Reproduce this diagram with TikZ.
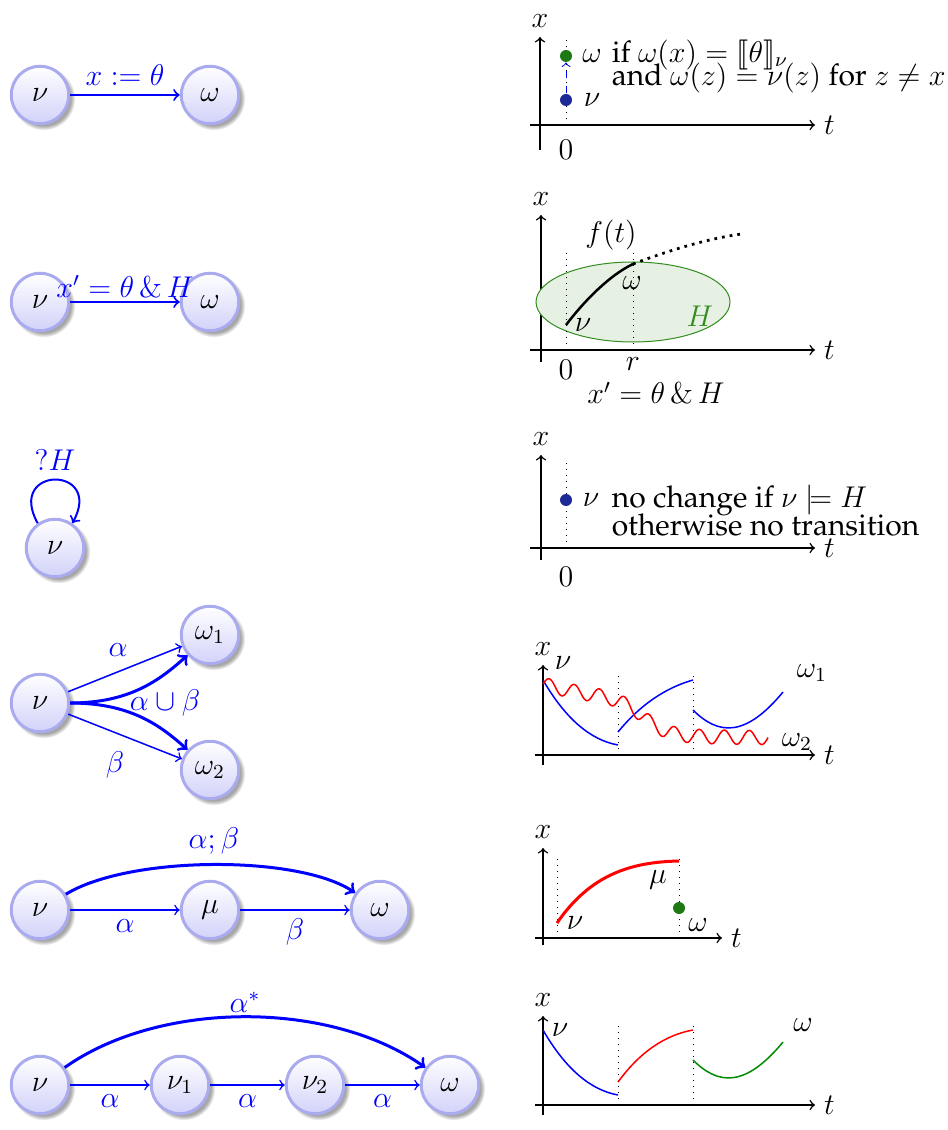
\documentclass[tikz,border=0pt]{standalone}
\usepackage[T1]{fontenc}
\renewcommand{\rmdefault}{ppl}
\usepackage{amsmath,amssymb,stmaryrd}
\usetikzlibrary{shadows}
\definecolor{nodeborder}{RGB}{170,170,238}
\definecolor{nodebottom}{RGB}{210,210,250}
\definecolor{dotblue}{RGB}{30,40,150}
\definecolor{dotgreen}{RGB}{30,120,20}
\definecolor{hgreen}{RGB}{50,140,30}
\tikzset{
 every node/.style={font=\fontsize{12}{14}\selectfont},
 st/.style={circle, draw=nodeborder, line width=1.2pt, top color=white, bottom color=nodebottom,
   minimum size=23pt, inner sep=0pt,
   circular drop shadow={shadow xshift=1.3pt, shadow yshift=-1.3pt, shadow scale=1.1, opacity=.7}},
 tr/.style={->, blue, thick},
 trthin/.style={->, blue, semithick},
 trbold/.style={->, blue, very thick},
 lbl/.style={text=blue},
 axis/.style={->, semithick},
 guide/.style={dotted, thin},
 pt/.style={circle, inner sep=0pt, minimum size=4.8pt},
}
\begin{document}
\begin{tikzpicture}[x=0.4pt,y=-0.4pt]
\useasboundingbox (0,0) rectangle (947,1130);

% ---------- row 1
\node[st] (a1) at (40,95) {$\nu$};
\node[st] (b1) at (210,95) {$\omega$};
\draw[tr] (a1) -- node[lbl, above] (l1) {$x:=\theta$} (b1);

\draw[axis] (530,125) -- (815,125) node[right] (t1) {$t$};
\draw[axis] (540,150) -- (540,37) node[above] (x1) {$x$};
\draw[guide] (566,125) -- (566,40);
\node (z1) at (566,150) {$0$};
\node[pt, fill=dotblue] (nu1) at (566,100) {};
\node[pt, fill=dotgreen] (om1) at (566,56) {};
\draw[->, blue, dashed, thin] (nu1) -- (om1);
\node (nu1l) at (592,100) {$\nu$};
\node (om1l) at (592,56) {$\omega$};
\node[anchor=west] (tx1a) at (603,55) {if $\omega(x)=\llbracket\theta\rrbracket_\nu$};
\node[anchor=west] (tx1b) at (603,78) {and $\omega(z)=\nu(z)$ for $z\neq x$};

% ---------- row 2
\node[st] (a2) at (40,302) {$\nu$};
\node[st] (b2) at (210,302) {$\omega$};
\draw[tr] (a2) -- node[lbl, above=-2pt] (l2) {$x'=\theta\,\&\,H$} (b2);

\draw[axis] (530,350) -- (815,350) node[right] (t2) {$t$};
\draw[axis] (541,362) -- (541,215) node[above] (x2) {$x$};
\draw[hgreen, fill=hgreen!12] (633,302) ellipse (97 and 40);
\draw[guide] (566,350) -- (566,248);
\draw[guide] (633,350) -- (633,248);
\draw[line width=1pt] (566,325) .. controls (585,300) and (610,275) .. (633,264);
\draw[dotted, line width=1.1pt] (633,264) .. controls (670,250) and (710,238) .. (742,234);
\node (f2) at (611,235) {$f(t)$};
\node (om2) at (632,283) {$\omega$};
\node (nu2) at (583,325) {$\nu$};
\node[text=hgreen] (h2) at (700,316) {$H$};
\node (z2) at (566,370) {$0$};
\node (r2) at (633,364) {$r$};
\node (e2) at (656,393) {$x'=\theta\,\&\,H$};

% ---------- row 3
\node[st] (a3) at (55,548) {$\nu$};
\draw[tr] (a3.125) .. controls +(-32,-58) and +(32,-58) .. node[lbl, above] (l3) {$?H$} (a3.55);

\draw[axis] (530,548) -- (815,548) node[right] (t3) {$t$};
\draw[axis] (541,560) -- (541,455) node[above] (x3) {$x$};
\draw[guide] (566,548) -- (566,460);
\node[pt, fill=dotblue] (nu3) at (566,500) {};
\node (nu3l) at (591,500) {$\nu$};
\node[anchor=west] (tx3a) at (603,500) {no change if $\nu\models H$};
\node[anchor=west] (tx3b) at (603,525) {otherwise no transition};
\node (z3) at (566,577) {$0$};

% ---------- row 4
\node[st] (a4) at (40,703) {$\nu$};
\node[st] (b4) at (210,635) {$\omega_1$};
\node[st] (c4) at (210,770) {$\omega_2$};
\draw[trthin] (a4) -- (b4);
\draw[trthin] (a4) -- (c4);
\node[lbl] (l4a) at (118,650) {$\alpha$};
\node[lbl] (l4b) at (115,765) {$\beta$};
\draw[trbold] (a4.east) .. controls (130,703) and (160,680) .. (b4);
\draw[trbold] (a4.east) .. controls (130,703) and (160,725) .. (c4);
\node[lbl] (l4c) at (165,703) {$\alpha\cup\beta$};

\draw[axis] (535,755) -- (815,755) node[right] (t4) {$t$};
\draw[axis] (543,765) -- (543,665) node[above] (x4) {$x$};
\draw[guide] (618,755) -- (618,672);
\draw[guide] (693,755) -- (693,672);
\draw[blue, semithick] (543,680) .. controls (565,718) and (590,740) .. (618,745);
\draw[blue, semithick] (618,732) .. controls (640,705) and (665,688) .. (693,680);
\draw[blue, semithick] (693,710) .. controls (718,735) and (745,738) .. (783,692);
\draw[red, semithick] plot[domain=0:225, samples=220, smooth]
  ({543+\x}, {684 + 18*(1-exp(-\x/60)) + 36/(1+exp(-(\x-100)/12)) - 7*sin(\x*14.4)});
\node (nu4) at (563,663) {$\nu$};
\node (om4a) at (812,673) {$\omega_1$};
\node (om4b) at (797,742) {$\omega_2$};

% ---------- row 5
\node[st] (a5) at (40,910) {$\nu$};
\node[st] (b5) at (210,910) {$\mu$};
\node[st] (c5) at (380,910) {$\omega$};
\draw[trthin] (a5) -- node[lbl, below] (l5a) {$\alpha$} (b5);
\draw[trthin] (b5) -- node[lbl, below] (l5b) {$\beta$} (c5);
\draw[trbold] (a5) .. controls (130,855) and (300,855) .. node[lbl, above] (l5c) {$\alpha;\beta$} (c5);

\draw[axis] (535,938) -- (722,938) node[right] (t5) {$t$};
\draw[axis] (543,945) -- (543,848) node[above] (x5) {$x$};
\draw[guide] (557,938) -- (557,855);
\draw[guide] (679,938) -- (679,855);
\draw[red, line width=1.2pt] (557,923) .. controls (590,875) and (630,862) .. (679,861);
\node[pt, fill=dotgreen] (om5) at (679,908) {};
\node (nu5) at (575,923) {$\nu$};
\node (mu5) at (658,880) {$\mu$};
\node (om5l) at (698,925) {$\omega$};

% ---------- row 6
\node[st] (a6) at (40,1085) {$\nu$};
\node[st] (b6) at (180,1085) {$\nu_1$};
\node[st] (c6) at (315,1085) {$\nu_2$};
\node[st] (d6) at (450,1085) {$\omega$};
\draw[trthin] (a6) -- node[lbl, below] (l6a) {$\alpha$} (b6);
\draw[trthin] (b6) -- node[lbl, below] (l6b) {$\alpha$} (c6);
\draw[trthin] (c6) -- node[lbl, below] (l6c) {$\alpha$} (d6);
\draw[trbold] (a6) .. controls (160,1000) and (330,1000) .. node[lbl, above=-2pt] (l6d) {$\alpha^*$} (d6);

\draw[axis] (535,1105) -- (815,1105) node[right] (t6) {$t$};
\draw[axis] (543,1115) -- (543,1016) node[above] (x6) {$x$};
\draw[guide] (618,1105) -- (618,1022);
\draw[guide] (693,1105) -- (693,1022);
\draw[blue, semithick] (543,1030) .. controls (565,1068) and (590,1090) .. (618,1095);
\draw[red, semithick] (618,1082) .. controls (640,1052) and (665,1035) .. (693,1030);
\draw[green!55!black, semithick] (693,1060) .. controls (718,1085) and (745,1088) .. (783,1042);
\node (nu6) at (560,1030) {$\nu$};
\node (om6) at (803,1025) {$\omega$};
\end{tikzpicture}
\end{document}
